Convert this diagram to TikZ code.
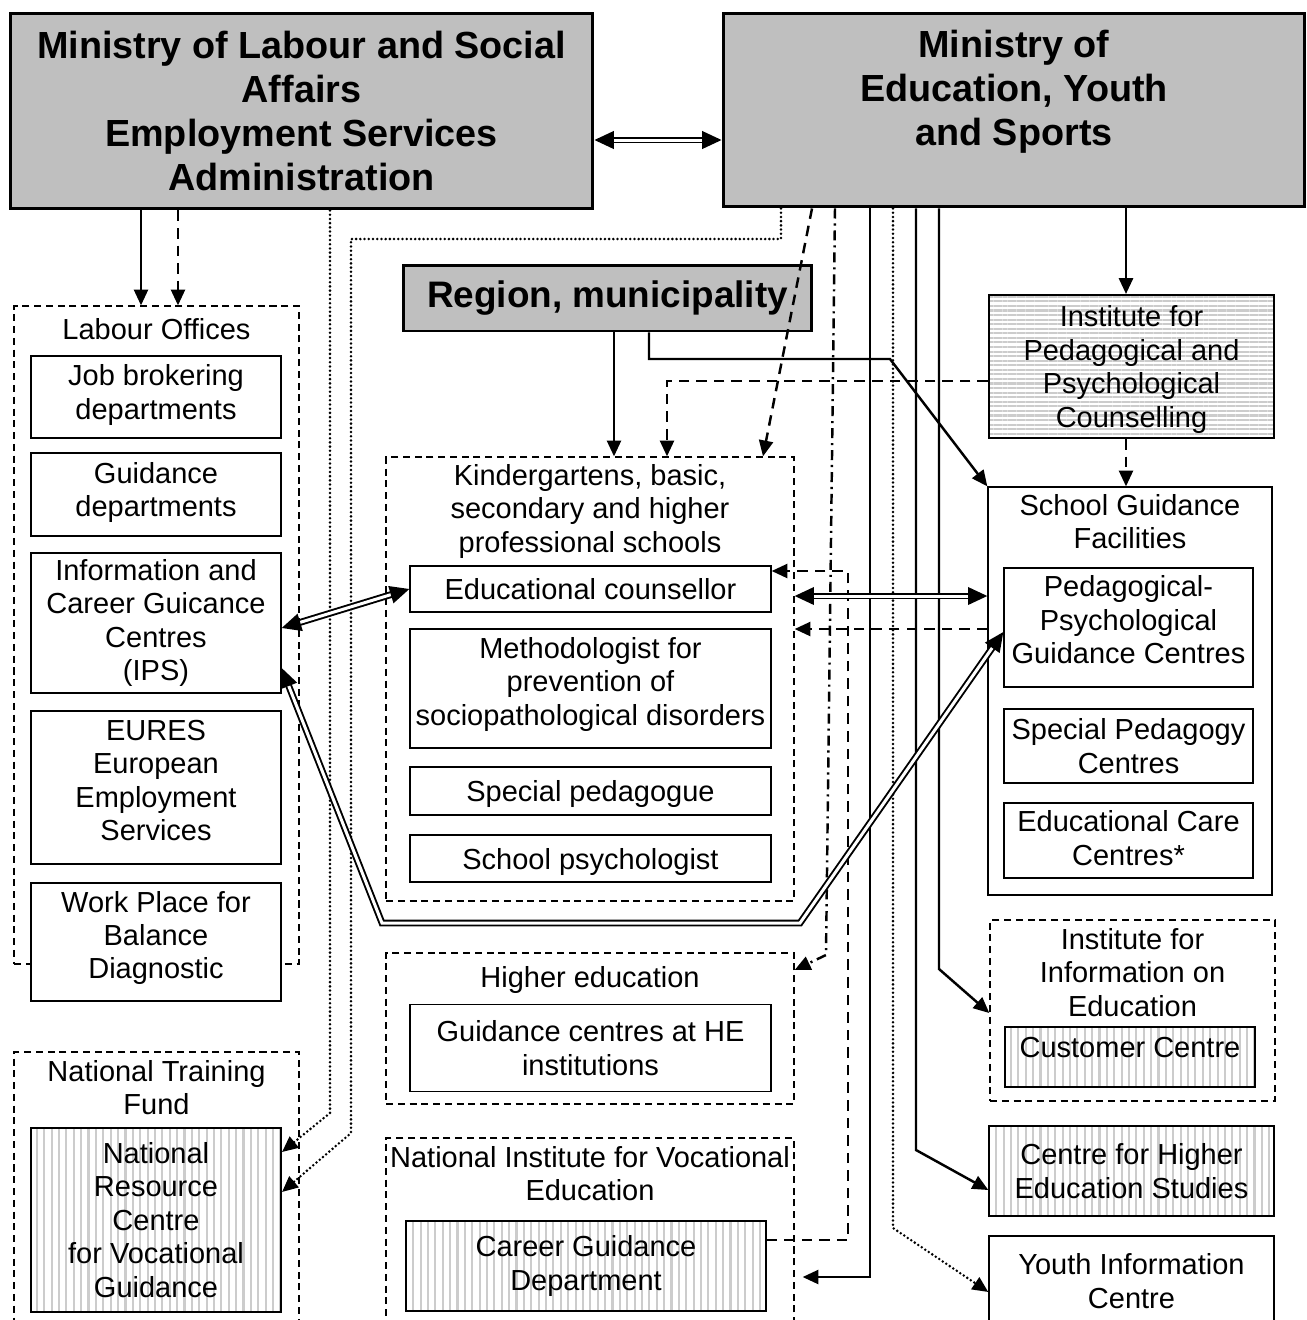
\documentclass[tikz,border=0pt]{standalone}
\usepackage{fontspec}
\setmainfont{Liberation Sans}
\usetikzlibrary{arrows.meta,positioning,patterns.meta}

\begin{document}
\begin{tikzpicture}[
    x = 0.02cm, y = -0.02cm, % one unit is one pixel, y runs down
    > = {Triangle[length=9pt,width=8pt]}, % arrow head style
    semithick, % line style
    every node/.style = {font=\fontsize{16.5}{19}\selectfont, align=center, inner sep=1pt}
    ]

    \tikzset{
    head/.style = {draw, line width=1.7pt, fill=gray!50, font=\fontsize{21.5}{25}\selectfont\bfseries},
    box/.style = {draw, line width=0.8pt, fill=white, minimum width=5cm},
    group/.style = {draw, line width=0.8pt, dash pattern=on 4pt off 2.7pt},
    vstripes/.style = {pattern={Lines[angle=90,distance=4.2pt,line width=1.2pt]}, pattern color=gray!40},
    hstripes/.style = {pattern={Lines[angle=0,distance=2.6pt,line width=1.2pt]}, pattern color=gray!40},
    link/.style = {line width=1.4pt},
    dashlink/.style = {line width=1.4pt, dash pattern=on 6pt off 4pt},
    dotlink/.style = {line width=1.6pt, line cap=round, dash pattern=on 0pt off 2.4pt},
    dashdotlink/.style = {line width=1.4pt, dash pattern=on 5.7pt off 2.8pt on 1.2pt off 2.8pt},
    twin/.style = {double, double distance=1.7pt, line width=1.1pt, {Triangle[length=11pt,width=10pt]}-{Triangle[length=11pt,width=10pt]}}
    }

    \useasboundingbox (0,0) rectangle (1307,1320);

    % ministries and region
    \node[head, minimum width=11.66cm, minimum height=3.92cm] (lab) at (301.5,111) {Ministry of Labour and Social\\Affairs\\Employment Services\\Administration};
    \node[head, minimum width=11.64cm, minimum height=3.88cm] (edu) at (1014,110) {Ministry of\\Education, Youth\\and Sports\\\mbox{}};
    \node[head, minimum width=8.18cm, minimum height=1.32cm, font=\fontsize{21}{25}\selectfont\bfseries] (reg) at (607.5,298) {Region, municipality};

    % labour offices
    \node[group, minimum width=5.7cm, minimum height=13.16cm] (lo) at (156.5,635) {};
    \node (lot) [below=6pt of lo.north] {Labour Offices};
    \node[box, minimum height=1.64cm, text depth=5.8pt] (job) at (156,397) {Job brokering\\departments};
    \node[box, minimum height=1.66cm, text depth=5.8pt] (gd) at (156,494.5) {Guidance\\departments};
    \node[box, minimum height=2.8cm] (ips) at (156,623) {Information and\\Career Guicance\\Centres\\(IPS)};
    \node[box, minimum height=3.06cm, text depth=8pt] (eures) at (156,787.5) {EURES\\European\\Employment\\Services};
    \node[box, minimum height=2.36cm, text depth=8pt] (wpb) at (156,942) {Work Place for\\Balance\\Diagnostic};

    % national training fund
    \node[group, minimum width=5.7cm, minimum height=5.66cm] (ntf) at (156.5,1193.5) {};
    \node (ntft) [below=3.8pt of ntf.north] {National Training\\Fund};
    \node[box, vstripes, minimum height=3.68cm] (nrc) at (156,1220) {National\\Resource\\Centre\\for Vocational\\Guidance};

    % schools
    \node[group, minimum width=8.16cm, minimum height=8.88cm] (kg) at (590,679) {};
    \node (kgt) [below=3.3pt of kg.north] {Kindergartens, basic,\\secondary and higher\\professional schools};
    \node[box, minimum width=7.22cm, minimum height=0.92cm] (ec) at (590.5,589) {Educational counsellor};
    \node[box, minimum width=7.22cm, minimum height=2.38cm, text depth=8pt] (meth) at (590.5,688.5) {Methodologist for\\prevention of\\sociopathological disorders};
    \node[box, minimum width=7.22cm, minimum height=0.96cm, text depth=0pt] (sp) at (590.5,791) {Special pedagogue};
    \node[box, minimum width=7.22cm, minimum height=0.94cm, text depth=0pt] (psy) at (590.5,858.5) {School psychologist};

    % higher education
    \node[group, minimum width=8.16cm, minimum height=3.02cm] (he) at (590,1028.5) {};
    \node (het) [below=6.7pt of he.north] {Higher education};
    \node[box, minimum width=7.22cm, minimum height=1.74cm] (gche) at (590.5,1048) {Guidance centres at HE\\institutions};

    % vocational education
    \node[group, minimum width=8.16cm, minimum height=4.04cm] (nive) at (590,1239) {};
    \node (nivet) [below=3.8pt of nive.north] {National Institute for Vocational\\Education};
    \node[box, vstripes, minimum width=7.2cm, minimum height=1.8cm] (cgd) at (586,1266) {Career Guidance\\Department};

    % right column
    \node[box, hstripes, minimum width=5.7cm, minimum height=2.86cm, text depth=0pt] (ipp) at (1131.5,366.5) {Institute for\\Pedagogical and\\Psychological\\Counselling};
    \node[draw, line width=0.8pt, minimum width=5.68cm, minimum height=8.16cm] (sgf) at (1130,691) {};
    \node (sgft) [below=3.3pt of sgf.north] {School Guidance\\Facilities};
    \node[box, minimum width=4.98cm, minimum height=2.38cm, text depth=9pt] (ppgc) at (1128.5,627.5) {Pedagogical-\\Psychological\\Guidance Centres};
    \node[box, minimum width=4.98cm, minimum height=1.48cm] (spc) at (1128.5,746) {Special Pedagogy\\Centres};
    \node[box, minimum width=4.98cm, minimum height=1.5cm, text depth=3pt] (ecc) at (1128.5,840.5) {Educational Care\\Centres*};

    \node[group, minimum width=5.7cm, minimum height=3.62cm] (iie) at (1132.5,1010.5) {};
    \node (iiet) [below=3.8pt of iie.north] {Institute for\\Information on\\Education};
    \node[box, vstripes, minimum height=1.2cm, text height=16pt, text depth=16pt] (cc) at (1130,1057) {Customer Centre};
    \node[box, vstripes, minimum width=5.7cm, minimum height=1.8cm] (cfhe) at (1131.5,1171) {Centre for Higher\\Education Studies};
    \node[box, minimum width=5.7cm, minimum height=1.8cm] (yic) at (1131.5,1281) {Youth Information\\Centre};

    % labour ministry
    \draw[link, ->] (lab.south -| 141,0) -- (lo.north -| 141,0);
    \draw[dashlink, ->] (lab.south -| 178,0) -- (lo.north -| 178,0);
    \draw[dotlink, ->] (lab.south -| 330,0) -- (330,1113) -- (nrc.east |- 0,1152);

    % education ministry
    \draw[dotlink, ->] (edu.south -| 781,0) |- (351,239) -- (351,1133) -- (nrc.east |- 0,1192);
    \draw[dashlink, ->] (edu.south -| 812,0) -- (kg.north -| 763,0);
    \draw[dashdotlink, ->] (edu.south -| 835,0) -- (826,955) -- (he.east |- 0,970);
    \draw[link, ->, shorten >=0.16cm] (edu.south -| 870,0) |- (nive.east |- 0,1277);
    \draw[dotlink, ->] (edu.south -| 893,0) -- (893,1228) -- (yic.west |- 0,1292);
    \draw[link, ->] (edu.south -| 916,0) -- (916,1150) -- (cfhe.west |- 0,1190);
    \draw[link, ->] (edu.south -| 939,0) -- (939,969) -- (iie.west |- 0,1013);
    \draw[link, ->] (edu.south -| 1126,0) -- (ipp.north -| 1126,0);

    % region
    \draw[link, ->] (reg.south -| 614,0) -- (kg.north -| 614,0);
    \draw[link, ->] (reg.south -| 649,0) |- (890,359) -- (sgf.north west);

    % counselling links
    \draw[dashlink, ->] (ipp.west |- 0,381) -| (kg.north -| 667,0);
    \draw[dashlink, ->] (ipp.south -| 1126,0) -- (sgf.north -| 1126,0);
    \draw[dashlink, ->] (cgd.east |- 0,1240) -| (848,571) -- (ec.east |- 0,571);
    \draw[dashlink, ->] (sgf.west |- 0,629) -- (kg.east |- 0,629);

    % two way links
    \draw[twin] (lab.east |- 0,140) -- (edu.west |- 0,140);
    \draw[twin] (ips.east |- 0,628) -- (ec.west |- 0,589);
    \draw[twin] (kg.east |- 0,596) -- (sgf.west |- 0,596);
    \draw[twin] (ips.east |- 0,668) -- (382,923) -- (800,923) -- (ppgc.west |- 0,632);
\end{tikzpicture}
\end{document}
